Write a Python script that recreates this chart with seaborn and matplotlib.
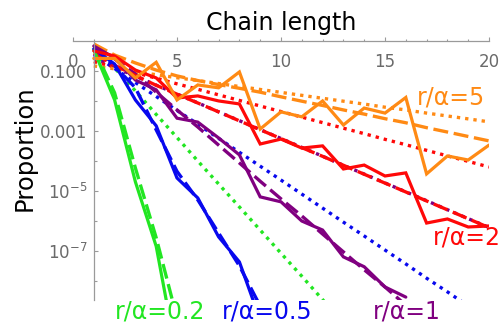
import matplotlib
matplotlib.use("Agg")
import matplotlib.pyplot as plt
import numpy as np
import pandas as pd
import seaborn as sns
from matplotlib.ticker import FixedLocator, FixedFormatter, NullFormatter

sns.set_style("white")
plt.rcParams['font.family'] = ['DejaVu Sans']

# ---------------- data ----------------
ratios = ["0.2", "0.5", "1", "2", "5"]
labels = ["r/α=0.2", "r/α=0.5", "r/α=1", "r/α=2", "r/α=5"]

green_sim = [5.2e-1, 1.1e-2, 2.0e-5, 1.4e-7, 2.6e-11]
green_theory = [6.0e-1, 1.9e-2, 5.8e-5, 2.7e-7, 5.6e-10]
green_geom = [7.6e-1, 1.3e-1, 2.2e-2, 3.6e-3, 6.1e-4, 1.0e-4, 1.7e-5, 2.9e-6,
              4.9e-7, 8.2e-8, 1.4e-8, 2.3e-9, 3.9e-10]

blue_sim = [5.6e-1, 1.75e-1, 1.1e-2, 1.5e-3, 2.7e-5, 5.8e-6, 2.9e-7, 4.2e-8, 4.8e-10]
blue_theory = [6.5e-1, 1.5e-1, 2.8e-2, 1.1e-3, 4.5e-5, 5.0e-6, 3.9e-7, 3.1e-8, 1.4e-9]
blue_geom = [3.6e-1, 1.24e-1, 4.2e-2, 1.44e-2, 4.9e-3, 1.7e-3, 5.7e-4, 1.95e-4,
             6.7e-5, 2.3e-5, 7.8e-6, 2.65e-6, 9.0e-7, 3.1e-7, 1.05e-7, 3.6e-8,
             1.2e-8, 4.2e-9, 1.4e-9, 4.9e-10]

purple_sim = [7.0e-1, 2.8e-1, 5.1e-2, 2.4e-2, 2.7e-3, 2.0e-3, 5.9e-4, 1.6e-4,
              6.3e-6, 4.3e-6, 9.8e-7, 4.9e-7, 6.2e-8, 2.9e-8, 6.1e-9, 2.8e-9]
purple_theory = [6.5e-1, 2.6e-1, 8.1e-2, 2.0e-2, 5.1e-3, 1.37e-3, 3.4e-4, 8.6e-5,
                 2.1e-5, 5.4e-6, 1.45e-6, 3.6e-7, 9.1e-8, 2.3e-8, 6.1e-9, 1.5e-9]
purple_geom = [2.7e-1, 1.36e-1, 6.9e-2, 3.45e-2, 1.74e-2, 8.8e-3, 4.4e-3, 2.23e-3,
               1.12e-3, 5.65e-4, 2.85e-4, 1.44e-4, 7.2e-5, 3.65e-5, 1.84e-5, 9.3e-6,
               4.7e-6, 2.35e-6, 1.18e-6, 6.0e-7]

red_sim = [4.8e-1, 3.25e-1, 1.1e-1, 6.0e-2, 1.28e-2, 1.5e-2, 1.02e-2, 8.1e-3,
           3.7e-4, 5.4e-4, 2.7e-4, 3.2e-4, 5.4e-5, 7.3e-5, 3.15e-5, 4.0e-5,
           8.4e-7, 1.15e-6, 6.2e-7, 6.7e-7]
red_theory = [4.0e-1, 1.6e-1, 7.2e-2, 3.4e-2, 1.72e-2, 8.7e-3, 4.4e-3, 2.2e-3,
              1.11e-3, 5.6e-4, 2.8e-4, 1.43e-4, 7.2e-5, 3.6e-5, 1.82e-5, 9.2e-6,
              4.6e-6, 2.33e-6, 1.17e-6, 5.9e-7]
red_geom = [2.1e-1, 1.38e-1, 9.0e-2, 5.9e-2, 3.8e-2, 2.5e-2, 1.63e-2, 1.06e-2,
            6.9e-3, 4.5e-3, 2.94e-3, 1.92e-3, 1.25e-3, 8.2e-4, 5.3e-4, 3.5e-4,
            2.27e-4, 1.48e-4, 9.7e-5, 6.3e-5]

orange_sim = [2.7e-1, 2.7e-1, 6.0e-2, 2.0e-1, 1.1e-2, 3.5e-2, 2.8e-2, 9.5e-2,
              1.17e-3, 4.4e-3, 3.0e-3, 1.02e-2, 1.6e-3, 5.9e-3, 4.0e-3, 1.33e-2,
              3.7e-5, 1.47e-4, 1.08e-4, 3.4e-4]
orange_theory = [8.2e-1, 3.5e-1, 1.9e-1, 1.1e-1, 7.0e-2, 4.9e-2, 3.6e-2, 2.7e-2,
                 2.0e-2, 1.4e-2, 1.0e-2, 7.2e-3, 5.1e-3, 3.7e-3, 2.6e-3, 1.9e-3,
                 1.3e-3, 9.3e-4, 6.6e-4, 4.7e-4]
orange_geom = [1.51e-1, 1.21e-1, 9.6e-2, 7.7e-2, 6.1e-2, 4.9e-2, 3.9e-2, 3.1e-2,
               2.47e-2, 1.97e-2, 1.57e-2, 1.25e-2, 1.0e-2, 8.0e-3, 6.3e-3, 5.1e-3,
               4.0e-3, 3.2e-3, 2.56e-3, 2.04e-3]

x_ticks = [0, 5, 10, 15, 20]
y_ticks = [1e-1, 1e-3, 1e-5, 1e-7]
y_ticklabels = ["0.100", "0.001", r"$10^{-5}$", r"$10^{-7}$"]
y_minor = [1e-2, 1e-4, 1e-6, 1e-8]

# ---------------- build long table ----------------
series = {
    "0.2": {"sim": green_sim, "theory": green_theory, "geom": green_geom},
    "0.5": {"sim": blue_sim, "theory": blue_theory, "geom": blue_geom},
    "1": {"sim": purple_sim, "theory": purple_theory, "geom": purple_geom},
    "2": {"sim": red_sim, "theory": red_theory, "geom": red_geom},
    "5": {"sim": orange_sim, "theory": orange_theory, "geom": orange_geom},
}
rows = []
for r in ratios:
    for kind, vals in series[r].items():
        for i, v in enumerate(vals):
            rows.append({"n": i + 1, "p": v, "ratio": r, "kind": kind})
df = pd.DataFrame(rows)

colors = {"0.2": "#22E622", "0.5": "#0808EE", "1": "#800080",
          "2": "#FF0808", "5": "#FF8A14"}

fig = plt.figure(figsize=(5.02, 3.23), dpi=100)
ax = fig.add_axes([73 / 502, 23 / 323, 416 / 502, 258.6 / 323])
ax.set_yscale("log")

styles = {"geom": (2.4, (1.0, 1.5)), "theory": (2.4, (4.5, 1.7)), "sim": (2.3, None)}
for kind in ["geom", "theory", "sim"]:
    for r in ratios:
        sub = df[(df["ratio"] == r) & (df["kind"] == kind)]
        lw, dash = styles[kind]
        sns.lineplot(data=sub, x="n", y="p", color=colors[r], linewidth=lw,
                     estimator=None, sort=False, legend=False, ax=ax)
        line = ax.lines[-1]
        if dash is not None:
            line.set_dashes(dash)
            line.set_dash_capstyle("butt")
        line.set_solid_joinstyle("miter")

ax.set_xlim(0, 20)
ax.set_ylim(10 ** -8.65, 1)

# spines
for s in ["right", "bottom"]:
    ax.spines[s].set_visible(False)
ax.spines["left"].set_position(("data", 1))
for s in ["left", "top"]:
    ax.spines[s].set_color("#9a9a9a")
    ax.spines[s].set_linewidth(0.9)

# x axis on top, labels drawn just under the axis line
ax.xaxis.tick_top()
ax.xaxis.set_major_locator(FixedLocator(x_ticks))
ax.xaxis.set_minor_locator(FixedLocator(range(1, 20)))
ax.tick_params(axis="x", which="both", top=True, bottom=False, labeltop=True,
               labelbottom=False, direction="out", color="#9a9a9a",
               labelcolor="#6a6a6a", labelsize=12, pad=-24)
ax.tick_params(axis="x", which="major", length=2.6, width=0.8)
ax.tick_params(axis="x", which="minor", length=1.8, width=0.8)

# y axis
ax.yaxis.set_major_locator(FixedLocator(y_ticks))
ax.yaxis.set_major_formatter(FixedFormatter(y_ticklabels))
ax.yaxis.set_minor_locator(FixedLocator(y_minor))
ax.yaxis.set_minor_formatter(NullFormatter())
ax.tick_params(axis="y", which="both", left=True, right=False, direction="in",
               color="#9a9a9a", labelcolor="#6a6a6a", labelsize=12, pad=4.5)
ax.tick_params(axis="y", which="major", length=3.0, width=0.8)
ax.tick_params(axis="y", which="minor", length=2.2, width=0.8)

ax.set_xlabel("Chain length", fontsize=17, color="black")
ax.xaxis.set_label_position("top")
ax.xaxis.set_label_coords(0.5, 1.045)
ax.set_ylabel("Proportion", fontsize=17.5, color="black")
ax.yaxis.set_label_coords(-0.088, 0.586)

# curve labels
ax.text(16.54, 0.0138, labels[4], color=colors["5"], fontsize=17, ha="left", va="center")
ax.text(17.31, 2.66e-7, labels[3], color=colors["2"], fontsize=17, ha="left", va="center")
ax.text(14.42, 8.9e-10, labels[2], color=colors["1"], fontsize=17, ha="left", va="center", clip_on=False)
ax.text(7.16, 8.9e-10, labels[1], color=colors["0.5"], fontsize=17, ha="left", va="center", clip_on=False)
ax.text(2.02, 8.9e-10, labels[0], color=colors["0.2"], fontsize=17, ha="left", va="center", clip_on=False)

fig.savefig("out.png", dpi=100)
